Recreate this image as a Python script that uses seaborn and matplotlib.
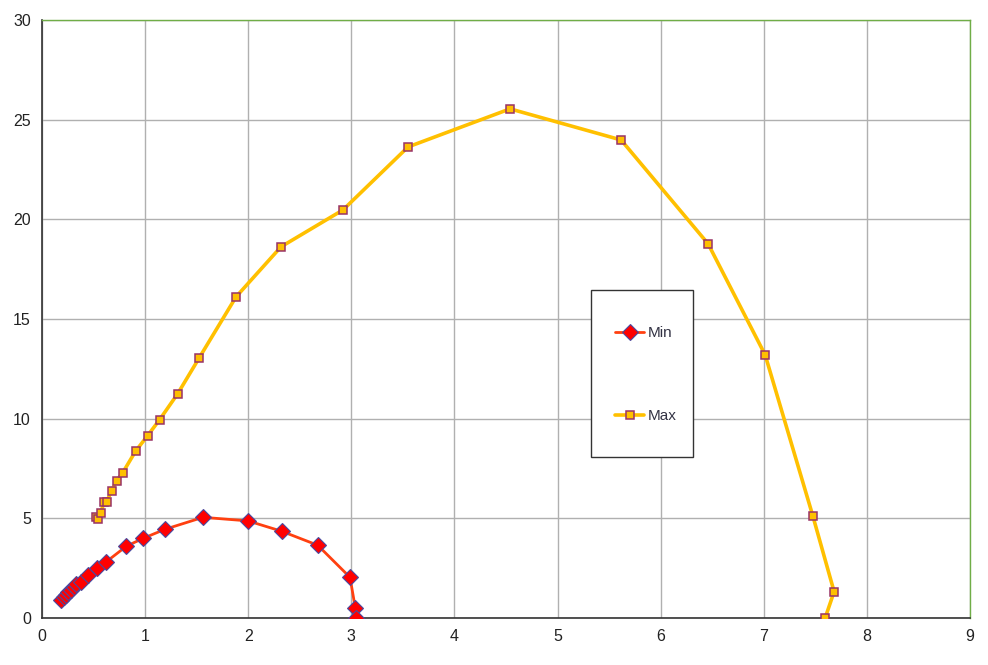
import matplotlib
matplotlib.use("Agg")
import matplotlib.pyplot as plt
from matplotlib.patches import Rectangle
import seaborn as sns
import numpy as np

sns.set_theme(style="white")
plt.rcParams['font.family'] = ['Liberation Sans', 'DejaVu Sans']

# Min series
min_x = [0.184, 0.209, 0.233, 0.257, 0.281, 0.306, 0.330, 0.378, 0.451, 0.529,
         0.616, 0.818, 0.983, 1.193, 1.562, 1.998, 2.325, 2.674, 2.987, 3.039, 3.043]
min_y = [0.90, 1.03, 1.15, 1.28, 1.40, 1.53, 1.68, 1.79, 2.14, 2.51,
         2.79, 3.60, 4.00, 4.45, 5.05, 4.87, 4.35, 3.65, 2.04, 0.49, 0.0]

# Max series
max_x = [0.524, 0.540, 0.569, 0.604, 0.628, 0.676, 0.725, 0.783, 0.909, 1.025,
         1.141, 1.316, 1.526, 1.882, 2.318, 2.919, 3.550, 4.539, 5.616, 6.460,
         7.013, 7.475, 7.682, 7.595]
max_y = [5.07, 4.98, 5.27, 5.84, 5.84, 6.39, 6.89, 7.29, 8.38, 9.15,
         9.95, 11.25, 13.06, 16.11, 18.62, 20.47, 23.63, 25.54, 23.98, 18.77,
         13.20, 5.13, 1.32, 0.0]

fig = plt.figure(figsize=(9.88, 6.65), dpi=100)
ax = fig.add_axes([0.0425, 0.0707, 0.9393, 0.8993])

sns.lineplot(x=min_x, y=min_y, sort=False, estimator=None, ax=ax,
             color="#ff4010", linewidth=2, marker="D", markersize=8,
             markerfacecolor="#ff0000", markeredgecolor="#4a4aa0",
             markeredgewidth=0.8, label="Min", zorder=3)
sns.lineplot(x=max_x, y=max_y, sort=False, estimator=None, ax=ax,
             color="#ffc000", linewidth=2.6, marker="s", markersize=5.5,
             markerfacecolor="#ffc000", markeredgecolor="#993366",
             markeredgewidth=1.1, label="Max", zorder=3)

ax.set_xlim(0, 9)
ax.set_ylim(0, 30)
ax.set_xticks(np.arange(0, 10, 1))
ax.set_yticks(np.arange(0, 31, 5))
ax.grid(True, color="#b0b0b0", linewidth=1)
ax.set_axisbelow(True)
ax.tick_params(axis="both", length=0, labelsize=11.5, colors="#222222", pad=8)

for side in ["top", "right"]:
    ax.spines[side].set_color("#70ad47")
    ax.spines[side].set_linewidth(1)
for side in ["left", "bottom"]:
    ax.spines[side].set_color("#333333")
    ax.spines[side].set_linewidth(1.2)

# legend box drawn separately so its padding can match the reference
ax.add_patch(Rectangle((0.5916, 0.2692), 0.1099, 0.2793, transform=ax.transAxes,
                       facecolor="white", edgecolor="#333333", linewidth=1,
                       zorder=4))
leg = ax.legend(loc="upper left", bbox_to_anchor=(0.6175, 0.488),
                frameon=False, fontsize=11, labelspacing=4.5,
                handlelength=1.9, handletextpad=0.25,
                borderpad=0, borderaxespad=0)
leg.set_zorder(5)
for t in leg.get_texts():
    t.set_color("#333344")

fig.savefig("out.png", dpi=100)
